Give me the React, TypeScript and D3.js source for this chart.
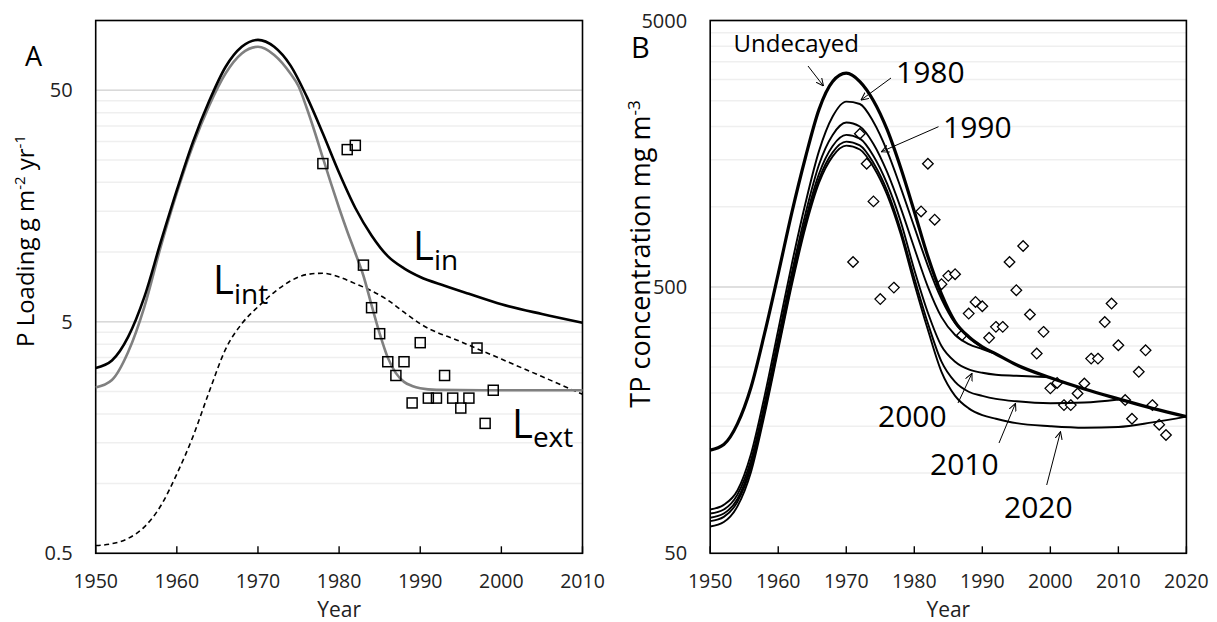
import React from 'react';
import * as d3 from 'd3';

const W = 1217;
const H = 622;
const FONT = "'Open Sans', 'Noto Sans', sans-serif";

// ---------- Panel A data ----------
const aXTicks = [1950, 1960, 1970, 1980, 1990, 2000, 2010];
const aYTicks = [0.5, 5, 50];
const aYTickLabels = ['0.5', '5', '50'];

const linYears = [1950, 1952, 1954, 1956, 1958, 1960, 1962, 1964, 1966, 1968, 1970, 1972, 1974, 1976, 1978, 1980, 1982, 1984, 1986, 1988, 1990, 1993, 1996, 2000, 2005, 2010];
const linValues = [3.16, 3.4, 4.3, 6.4, 11, 18.5, 30, 45, 63, 77, 82.5, 77, 64, 47, 32.5, 22, 15.5, 11.8, 9.6, 8.5, 7.8, 7.15, 6.6, 5.95, 5.4, 4.95];

const lextYears = [1950, 1952, 1954, 1956, 1958, 1960, 1962, 1964, 1966, 1968, 1970, 1972, 1974, 1975, 1976, 1977, 1978, 1979, 1980, 1981, 1982, 1983, 1984, 1985, 1986, 1987, 1988, 1989, 1990, 1992, 2000, 2010];
const lextValues = [2.6, 2.8, 3.7, 5.8, 10.5, 18, 29, 43, 59, 72, 77, 71, 59, 52, 42, 33, 25.5, 19.8, 15.5, 12.3, 9.9, 7.9, 5.9, 4.45, 3.5, 3.0, 2.75, 2.64, 2.58, 2.54, 2.53, 2.53];

const lintYears = [1950, 1952, 1954, 1956, 1958, 1960, 1962, 1964, 1966, 1968, 1970, 1972, 1974, 1976, 1978, 1980, 1982, 1984, 1986, 1988, 1990, 1995, 2000, 2005, 2010];
const lintValues = [0.54, 0.55, 0.58, 0.65, 0.8, 1.1, 1.6, 2.5, 3.8, 4.9, 5.8, 6.7, 7.5, 8.0, 8.1, 7.8, 7.3, 6.8, 6.2, 5.5, 4.9, 4.1, 3.45, 2.9, 2.43];

const obsAYears = [1978, 1981, 1982, 1983, 1984, 1985, 1986, 1987, 1988, 1989, 1990, 1991, 1992, 1993, 1994, 1995, 1996, 1997, 1998, 1999];
const obsAValues = [24.1, 27.7, 28.9, 8.78, 5.75, 4.44, 3.36, 2.93, 3.36, 2.23, 4.06, 2.34, 2.34, 2.93, 2.34, 2.12, 2.34, 3.85, 1.82, 2.53];

// ---------- Panel B data ----------
const bXTicks = [1950, 1960, 1970, 1980, 1990, 2000, 2010, 2020];
const bYTicks = [50, 500, 5000];
const bYTickLabels = ['50', '500', '5000'];

const bYears = [1950, 1952, 1954, 1956, 1958, 1960, 1962, 1964, 1966, 1968, 1970, 1972, 1974, 1976, 1978, 1980, 1982, 1984, 1986, 1988, 1990, 1992, 1995, 2000, 2005, 2010, 2015, 2020];
const undecayed = [122, 128, 153, 210, 335, 560, 950, 1530, 2320, 2950, 3170, 2950, 2500, 1950, 1400, 960, 650, 470, 370, 325, 298, 280, 255, 228, 207, 190, 175, 163];
const run1980 = [73, 76, 86, 118, 195, 345, 610, 1030, 1620, 2180, 2480, 2430, 2080, 1620, 1180, 840, 600, 450, 365, 323, 297];
const run1990 = [70.5, 73, 83, 112, 183, 322, 565, 940, 1440, 1860, 2070, 2000, 1720, 1350, 990, 700, 500, 385, 330, 305, 292, 280];
const run2000 = [68, 70.5, 80, 108, 176, 308, 540, 890, 1330, 1690, 1860, 1800, 1550, 1220, 880, 580, 400, 300, 262, 245, 238, 234, 232, 229];
const run2010 = [66, 68.5, 78, 105, 171, 298, 522, 860, 1270, 1600, 1755, 1700, 1460, 1150, 820, 540, 365, 262, 220, 202, 195, 190, 186, 183, 184, 189];
const run2020 = [63, 65.5, 75, 101, 166, 290, 508, 835, 1230, 1545, 1695, 1640, 1410, 1110, 790, 515, 345, 240, 195, 175, 165, 160, 154, 150, 148, 149, 155, 163];

const obsBYears = [1971, 1972, 1973, 1974, 1975, 1977, 1981, 1982, 1983, 1984, 1985, 1986, 1987, 1988, 1989, 1990, 1991, 1992, 1993, 1994, 1995, 1996, 1997, 1998, 1999, 2000, 2001, 2002, 2003, 2004, 2005, 2006, 2007, 2008, 2009, 2010, 2011, 2012, 2013, 2014, 2015, 2016, 2017];
const obsBValues = [620, 1879, 1450, 1047, 450, 497, 960, 1450, 894, 512, 550, 558, 329, 397, 439, 423, 322, 354, 354, 620, 486, 712, 394, 281, 339, 208, 218, 180, 180, 199, 217, 269, 269, 369, 433, 302, 188, 160, 240, 289, 180, 152, 139];

// ---------- layout ----------
const A = { left: 95.7, right: 582.5, top: 20.5, bottom: 553.3 };
const B = { left: 710.2, right: 1186.4, top: 20.5, bottom: 553.3 };

const xA = d3.scaleLinear().domain([1950, 2010]).range([A.left, A.right]);
const yA = d3.scaleLog().domain([0.5, 100]).range([A.bottom, A.top]);
const xB = d3.scaleLinear().domain([1950, 2020]).range([B.left, B.right]);
const yB = d3.scaleLog().domain([50, 5000]).range([B.bottom, B.top]);

function zip(xs: number[], ys: number[]): [number, number][] {
  return ys.map((v, i) => [xs[i], v]);
}

function minorGrid(bases: number[], max: number) {
  const out: number[] = [];
  bases.forEach((b) => {
    for (let k = 1; k <= 9; k++) {
      const v = b * k;
      if (v <= max * 1.0001) out.push(v);
    }
  });
  return out;
}

function Frame({ box, xs, ys, xTicks, yTicks, yLabels, gridBases, gridMax }: any) {
  const minor = minorGrid(gridBases, gridMax);
  return (
    <g>
      {minor.map((v: number, i: number) => (
        <line key={'m' + i} x1={box.left} x2={box.right} y1={ys(v)} y2={ys(v)} stroke="#efefef" strokeWidth={1.5} />
      ))}
      {yTicks.map((v: number, i: number) => (
        <line key={'M' + i} x1={box.left} x2={box.right} y1={ys(v)} y2={ys(v)} stroke="#d9d9d9" strokeWidth={1.5} />
      ))}
      <rect x={box.left} y={box.top} width={box.right - box.left} height={box.bottom - box.top} fill="none" stroke="#000" strokeWidth={1.6} />
      {xTicks.map((t: number) => (
        <g key={'xt' + t}>
          <line x1={xs(t)} x2={xs(t)} y1={box.bottom} y2={box.bottom - 7} stroke="#000" strokeWidth={1.4} />
          <text x={xs(t)} y={588} textAnchor="middle" fontSize={19.5} fill="#222">{t}</text>
        </g>
      ))}
      {yTicks.map((v: number, i: number) => (
        <text key={'yt' + i} x={box.left - 23} y={ys(v) + 7} textAnchor="end" fontSize={20} fill="#222">{yLabels[i]}</text>
      ))}
      <text x={(box.left + box.right) / 2} y={616.5} textAnchor="middle" fontSize={21} fill="#222">Year</text>
    </g>
  );
}

export default function App() {
  const lineA = d3.line<[number, number]>().x((d) => xA(d[0])).y((d) => yA(d[1])).curve(d3.curveMonotoneX);
  const lineB = d3.line<[number, number]>().x((d) => xB(d[0])).y((d) => yB(d[1])).curve(d3.curveMonotoneX);

  const thinRuns = [run1980, run1990, run2000, run2010, run2020];

  const diamond = (cx: number, cy: number, r: number) => `M${cx},${cy - r}L${cx + r},${cy}L${cx},${cy + r}L${cx - r},${cy}Z`;

  const arrows: [number, number, number, number][] = [
    [808, 66, 823.5, 86],
    [891, 78, 861, 100],
    [938.5, 126.7, 881.4, 151.7],
    [958, 403, 972, 373.3],
    [999, 443, 1015.5, 403.3],
    [1046.7, 485, 1060.5, 431.7],
  ];

  return (
    <div style={{ position: 'absolute', left: 0, top: 0 }}>
      <svg width={W} height={H} style={{ display: 'block', fontFamily: FONT }}>
        <defs>
          <marker id="arrowhead" viewBox="0 0 10 10" refX="9.5" refY="5" markerWidth="8" markerHeight="8" orient="auto">
            <path d="M0,0.5 L9.5,5 L0,9.5" fill="none" stroke="#000" strokeWidth="1.3" />
          </marker>
        </defs>
        <rect x={0} y={0} width={W} height={H} fill="#fff" />

        {/* ---------------- Panel A ---------------- */}
        <Frame box={A} xs={xA} ys={yA} xTicks={aXTicks} yTicks={aYTicks} yLabels={aYTickLabels} gridBases={[0.5, 5, 50]} gridMax={100} />
        <path d={lineA(zip(lintYears, lintValues)) || ''} fill="none" stroke="#000" strokeWidth={1.6} strokeDasharray="5,3.5" />
        <path d={lineA(zip(lextYears, lextValues)) || ''} fill="none" stroke="#808080" strokeWidth={2.6} />
        <path d={lineA(zip(linYears, linValues)) || ''} fill="none" stroke="#000" strokeWidth={2.6} />
        {obsAYears.map((yr, i) => (
          <rect key={'sq' + i} x={xA(yr) - 5} y={yA(obsAValues[i]) - 5} width={10} height={10} fill="none" stroke="#000" strokeWidth={1.5} />
        ))}
        <text x={25} y={66} fontSize={27} fill="#000">A</text>
        <text x={413} y={260} fontSize={40} fill="#000">L<tspan dy={10} fontSize={28}>in</tspan></text>
        <text x={213} y={294} fontSize={40} fill="#000">L<tspan dy={10} fontSize={28}>int</tspan></text>
        <text x={512} y={438} fontSize={40} fill="#000">L<tspan dy={9} fontSize={28}>ext</tspan></text>
        <text transform={`translate(34,241) rotate(-90)`} textAnchor="middle" fontSize={24} fill="#000">
          P Loading g m<tspan dy={-9} fontSize={15}>-2</tspan><tspan dy={9}> yr</tspan><tspan dy={-9} fontSize={15}>-1</tspan>
        </text>

        {/* ---------------- Panel B ---------------- */}
        <Frame box={B} xs={xB} ys={yB} xTicks={bXTicks} yTicks={bYTicks} yLabels={bYTickLabels} gridBases={[50, 500]} gridMax={5000} />
        {obsBYears.map((yr, i) => (
          <path key={'dm' + i} d={diamond(xB(yr), yB(obsBValues[i]), 5.3)} fill="#fff" stroke="#000" strokeWidth={1.3} />
        ))}
        {thinRuns.map((vals, i) => (
          <path key={'run' + i} d={lineB(zip(bYears, vals)) || ''} fill="none" stroke="#000" strokeWidth={1.9} />
        ))}
        <path d={lineB(zip(bYears, undecayed)) || ''} fill="none" stroke="#000" strokeWidth={3.2} />
        {arrows.map((a, i) => (
          <line key={'ar' + i} x1={a[0]} y1={a[1]} x2={a[2]} y2={a[3]} stroke="#000" strokeWidth={1} markerEnd="url(#arrowhead)" />
        ))}
        <text x={733.5} y={51.7} fontSize={24} fill="#000">Undecayed</text>
        <text x={896} y={83.3} fontSize={30} fill="#000">1980</text>
        <text x={943} y={138.3} fontSize={30} fill="#000">1990</text>
        <text x={878} y={426.7} fontSize={30} fill="#000">2000</text>
        <text x={930} y={475} fontSize={30} fill="#000">2010</text>
        <text x={1004} y={518.3} fontSize={30} fill="#000">2020</text>
        <text x={631} y={57.5} fontSize={29} fill="#000">B</text>
        <text transform={`translate(650,254) rotate(-90)`} textAnchor="middle" fontSize={27} fill="#000">
          TP concentration mg m<tspan dy={-10} fontSize={17}>-3</tspan>
        </text>
      </svg>
    </div>
  );
}
